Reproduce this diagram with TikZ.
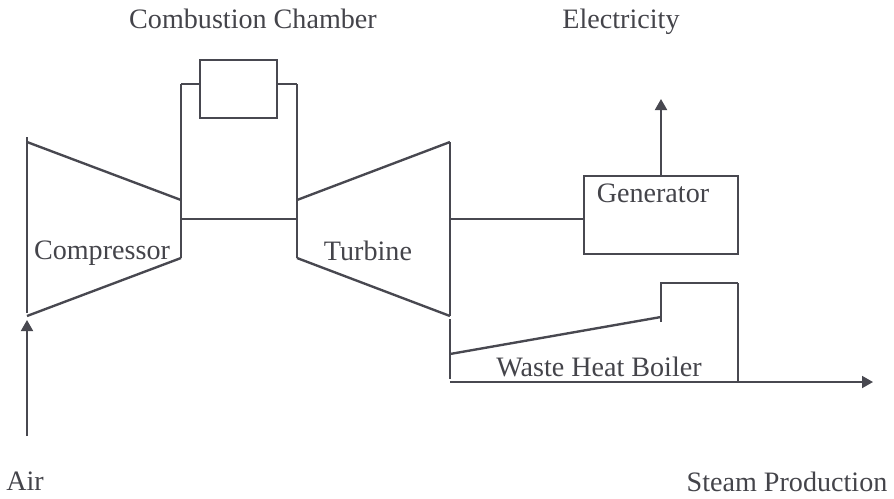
\documentclass[tikz,border=0pt]{standalone}
\usepackage{fontspec}
\setmainfont{Liberation Serif}
\definecolor{linegray}{RGB}{72, 72, 80}
\definecolor{textgray}{RGB}{68, 68, 74}
\usetikzlibrary{arrows.meta, positioning}

\begin{document}
\begin{tikzpicture}[
  x=0.2mm, y=-0.2mm,
  pipe/.style={draw=linegray, line width=1.05pt},
  wall/.style={draw=linegray, line width=1.35pt},
  flow/.style={pipe, -{Triangle[length=2.2mm, width=2.4mm]}},
  unit/.style={pipe, fill=white, inner sep=0pt},
  lbl/.style={text=textgray, font=\fontsize{16}{19}\selectfont, inner sep=0pt, anchor=base}
]
  \useasboundingbox (0,0) rectangle (894,498);

  % Compressor
  \coordinate (c1) at (27,142);
  \coordinate (c2) at (181,200);
  \coordinate (c3) at (181,258);
  \coordinate (c4) at (27,316);
  \draw[pipe] (27,137) -- (27,313);
  \draw[wall] (c1) -- (c2);
  \draw[wall] (c4) -- (c3);
  \draw[pipe] (c3) -- (181,84) coordinate (ccl);

  % Combustion chamber
  \coordinate (ccr) at (297,84);
  \node[unit, minimum width=1.54cm, minimum height=1.16cm] (cc) at (238.5,89) {};
  \draw[pipe] (ccl) -- (ccl -| cc.west);
  \draw[pipe] (ccr -| cc.east) -- (ccr);

  % Turbine
  \coordinate (t1) at (297,200);
  \coordinate (t2) at (450,142);
  \coordinate (t3) at (450,316);
  \coordinate (t4) at (297,258);
  \draw[pipe] (ccr) -- (t4);
  \draw[wall] (t4) -- (t3);
  \draw[pipe] (t3) -- (t2);
  \draw[wall] (t2) -- (t1);

  % Shafts
  \coordinate (s1) at (181,219);
  \coordinate (s2) at (297,219);
  \coordinate (s3) at (450,219);
  \draw[pipe] (s1) -- (s2);

  % Generator
  \node[unit, minimum width=3.08cm, minimum height=1.56cm] (gen) at (661,215) {};
  \draw[pipe] (s3) -- (s3 -| gen.west);
  \coordinate (elec) at (661,99);
  \draw[flow] (gen.north) -- (elec);

  % Waste heat boiler
  \coordinate (b1) at (450,319);
  \coordinate (b2) at (450,379);
  \coordinate (b3) at (450,354);
  \coordinate (b4) at (661,317);
  \coordinate (b5) at (661,322);
  \coordinate (b6) at (661,283);
  \coordinate (b7) at (738,283);
  \coordinate (b8) at (738,382);
  \coordinate (b9) at (450,382);
  \coordinate (steam) at (873,382);
  \draw[wall] (b1) -- (b2);
  \draw[wall] (b3) -- (b4);
  \draw[pipe] (b5) -- (b6) -- (b7);
  \draw[wall] (b7) -- (b8);
  \draw[flow] (b9) -- (steam);

  % Air inlet
  \coordinate (air1) at (27,436);
  \coordinate (air2) at (27,320);
  \draw[flow] (air1) -- (air2);

  % Labels
  \node[lbl] (lcc) at (253,28) {Combustion Chamber};
  \node[lbl] (lel) at (621,28) {Electricity};
  \node[lbl] (lcp) at (102,259) {Compressor};
  \node[lbl] (ltb) at (368,260) {Turbine};
  \node[lbl] (lgn) at (653,202) {Generator};
  \node[lbl] (lwh) at (599,376) {Waste Heat Boiler};
  \node[lbl] (lai) at (25,490) {Air};
  \node[lbl] (lst) at (787,491) {Steam Production};
\end{tikzpicture}
\end{document}
